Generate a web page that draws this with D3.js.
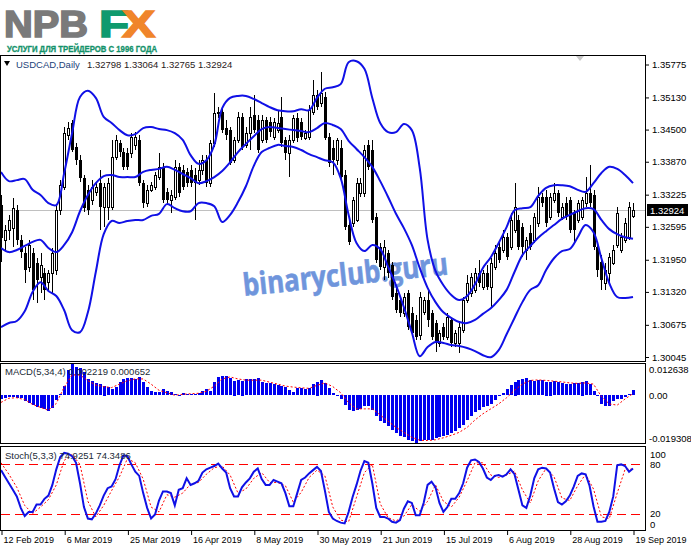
<!DOCTYPE html>
<html>
<head>
<meta charset="utf-8">
<script src="https://cdn.jsdelivr.net/npm/d3@7"></script>
<style>
body{margin:0;background:#fff;}
svg{display:block;font-family:"Liberation Sans",Arial,sans-serif;}
</style>
</head>
<body>
<script>
// USDCAD daily, 12 Feb 2019 .. 19 Sep 2019 (161 bars)
var openP = [
 1.3302,1.3234,1.3253,1.3257,1.3292,1.3234,1.3208,1.3181,1.3208,1.3189,
 1.3161,1.3169,1.3151,1.3169,1.3175,1.3292,1.3337,1.3439,1.3463,1.3416,
 1.3390,1.3355,1.3332,1.3312,1.3328,1.3345,1.3298,1.3298,1.3298,1.3396,
 1.3424,1.3406,1.3404,1.3404,1.3420,1.3430,1.3345,1.3306,1.3332,1.3337,
 1.3357,1.3377,1.3328,1.3312,1.3318,1.3377,1.3371,1.3367,1.3371,1.3361,
 1.3351,1.3371,1.3390,1.3345,1.3424,1.3483,1.3484,1.3453,1.3449,1.3390,
 1.3430,1.3475,1.3420,1.3443,1.3479,1.3469,1.3430,1.3469,1.3465,1.3435,
 1.3449,1.3475,1.3430,1.3404,1.3430,1.3473,1.3465,1.3434,1.3435,1.3484,
 1.3518,1.3502,1.3514,1.3435,1.3414,1.3390,1.3414,1.3361,1.3263,1.3267,
 1.3273,1.3326,1.3326,1.3420,1.3410,1.3279,1.3220,1.3181,1.3208,1.3185,
 1.3130,1.3116,1.3091,1.3130,1.3091,1.3077,1.3047,1.3092,1.3116,1.3091,
 1.3071,1.3032,1.3063,1.3043,1.3077,1.3032,1.3032,1.3057,1.3116,1.3130,
 1.3136,1.3169,1.3141,1.3169,1.3141,1.3181,1.3220,1.3214,1.3239,1.3220,
 1.3253,1.3273,1.3259,1.3214,1.3247,1.3234,1.3267,1.3318,1.3318,1.3279,
 1.3312,1.3326,1.3279,1.3306,1.3312,1.3287,1.3273,1.3279,1.3306,1.3326,
 1.3322,1.3220,1.3190,1.3149,1.3169,1.3189,1.3224,1.3214,1.3234,1.3239,
 1.32798];
var highP = [
 1.3322,1.3263,1.3283,1.3316,1.3302,1.3243,1.3220,1.3234,1.3218,1.3198,
 1.3208,1.3179,1.3175,1.3218,1.3302,1.3351,1.3455,1.3465,1.3469,1.3424,
 1.3400,1.3361,1.3341,1.3351,1.3347,1.3371,1.3345,1.3355,1.3430,1.3439,
 1.3430,1.3414,1.3414,1.3443,1.3445,1.3439,1.3351,1.3341,1.3347,1.3367,
 1.3404,1.3385,1.3336,1.3332,1.3390,1.3385,1.3381,1.3375,1.3381,1.3375,
 1.3390,1.3400,1.3400,1.3430,1.3522,1.3494,1.3492,1.3469,1.3455,1.3435,
 1.3484,1.3483,1.3455,1.3494,1.3518,1.3479,1.3479,1.3475,1.3475,1.3473,
 1.3488,1.3514,1.3435,1.3439,1.3479,1.3483,1.3473,1.3449,1.3498,1.3547,
 1.3528,1.3563,1.3524,1.3443,1.3430,1.3434,1.3430,1.3371,1.3277,1.3318,
 1.3355,1.3355,1.3420,1.3430,1.3430,1.3287,1.3228,1.3234,1.3214,1.3190,
 1.3140,1.3124,1.3130,1.3136,1.3102,1.3087,1.3132,1.3122,1.3136,1.3096,
 1.3077,1.3057,1.3071,1.3091,1.3083,1.3057,1.3073,1.3122,1.3165,1.3169,
 1.3179,1.3194,1.3175,1.3185,1.3198,1.3224,1.3228,1.3253,1.3247,1.3287,
 1.3345,1.3283,1.3267,1.3239,1.3263,1.3287,1.3337,1.3326,1.3332,1.3326,
 1.3345,1.3332,1.3306,1.3318,1.3318,1.3292,1.3312,1.3318,1.3357,1.3381,
 1.3332,1.3228,1.3204,1.3189,1.3208,1.3224,1.3298,1.3247,1.3277,1.3308,
 1.33064];
var lowP = [
 1.3190,1.3214,1.3234,1.3220,1.3224,1.3198,1.3149,1.3171,1.3116,1.3110,
 1.3130,1.3116,1.3136,1.3130,1.3165,1.3283,1.3332,1.3430,1.3406,1.3381,
 1.3347,1.3288,1.3283,1.3302,1.3320,1.3253,1.3259,1.3273,1.3292,1.3390,
 1.3396,1.3371,1.3371,1.3394,1.3410,1.3339,1.3296,1.3298,1.3328,1.3332,
 1.3351,1.3306,1.3302,1.3287,1.3312,1.3318,1.3332,1.3337,1.3337,1.3273,
 1.3341,1.3361,1.3337,1.3337,1.3416,1.3473,1.3443,1.3430,1.3381,1.3385,
 1.3424,1.3410,1.3414,1.3410,1.3443,1.3404,1.3424,1.3424,1.3435,1.3430,
 1.3443,1.3416,1.3390,1.3357,1.3424,1.3426,1.3430,1.3430,1.3430,1.3479,
 1.3488,1.3494,1.3430,1.3377,1.3361,1.3381,1.3351,1.3253,1.3224,1.3259,
 1.3269,1.3318,1.3318,1.3371,1.3267,1.3189,1.3175,1.3155,1.3159,1.3116,
 1.3091,1.3083,1.3083,1.3057,1.3043,1.3038,1.3038,1.3087,1.3063,1.3038,
 1.3014,1.3024,1.3038,1.3038,1.3024,1.3024,1.3012,1.3051,1.3110,1.3122,
 1.3130,1.3141,1.3136,1.3136,1.3102,1.3175,1.3189,1.3208,1.3194,1.3214,
 1.3247,1.3214,1.3200,1.3194,1.3214,1.3228,1.3259,1.3298,1.3259,1.3273,
 1.3306,1.3279,1.3273,1.3273,1.3247,1.3228,1.3267,1.3273,1.3298,1.3298,
 1.3214,1.3161,1.3136,1.3136,1.3149,1.3185,1.3218,1.3208,1.3228,1.3234,
 1.32765];
var closeP = [
 1.3238,1.3253,1.3273,1.3296,1.3234,1.3210,1.3175,1.3224,1.3136,1.3155,
 1.3185,1.3136,1.3169,1.3208,1.3292,1.3341,1.3443,1.3453,1.3410,1.3390,
 1.3355,1.3296,1.3292,1.3337,1.3337,1.3298,1.3337,1.3345,1.3396,1.3430,
 1.3406,1.3377,1.3377,1.3435,1.3435,1.3345,1.3306,1.3332,1.3341,1.3361,
 1.3377,1.3312,1.3312,1.3322,1.3377,1.3326,1.3337,1.3345,1.3345,1.3345,
 1.3371,1.3390,1.3345,1.3424,1.3483,1.3484,1.3449,1.3439,1.3385,1.3430,
 1.3475,1.3416,1.3443,1.3475,1.3449,1.3410,1.3469,1.3430,1.3445,1.3465,
 1.3463,1.3424,1.3404,1.3430,1.3473,1.3434,1.3435,1.3443,1.3488,1.3518,
 1.3494,1.3522,1.3434,1.3385,1.3390,1.3430,1.3357,1.3259,1.3230,1.3312,
 1.3345,1.3345,1.3410,1.3377,1.3273,1.3194,1.3181,1.3220,1.3169,1.3122,
 1.3096,1.3091,1.3122,1.3063,1.3051,1.3043,1.3122,1.3116,1.3077,1.3043,
 1.3032,1.3051,1.3043,1.3083,1.3032,1.3051,1.3063,1.3116,1.3149,1.3161,
 1.3169,1.3149,1.3169,1.3141,1.3189,1.3208,1.3194,1.3239,1.3200,1.3273,
 1.3298,1.3220,1.3220,1.3234,1.3220,1.3279,1.3318,1.3306,1.3267,1.3318,
 1.3326,1.3287,1.3298,1.3279,1.3253,1.3253,1.3306,1.3312,1.3326,1.3306,
 1.3220,1.3175,1.3155,1.3175,1.3200,1.3214,1.3287,1.3239,1.3267,1.3298,
 1.32924];

// Bollinger bands, read every second bar
var bbUpper = [
 1.3367,1.3349,1.3351,1.3353,1.3332,1.3322,1.3306,1.3302,1.3365,1.3443,
 1.3514,1.3526,1.3512,1.3475,1.3463,1.3449,1.3439,1.3441,1.3453,1.3455,
 1.3451,1.3449,1.3443,1.3430,1.3400,1.3383,1.3390,1.3420,1.3492,1.3512,
 1.3516,1.3516,1.3510,1.3502,1.3494,1.3488,1.3486,1.3486,1.3490,1.3488,
 1.3512,1.3530,1.3533,1.3539,1.3582,1.3584,1.3569,1.3512,1.3463,1.3445,
 1.3445,1.3461,1.3449,1.3375,1.3234,1.3173,1.3145,1.3126,1.3116,1.3124,
 1.3147,1.3179,1.3200,1.3228,1.3259,1.3292,1.3296,1.3298,1.3320,1.3336,
 1.3341,1.3341,1.3339,1.3332,1.3328,1.3345,1.3365,1.3377,1.3373,1.3361,
 1.3345];
var bbMiddle = [
 1.3218,1.3210,1.3214,1.3222,1.3230,1.3234,1.3218,1.3210,1.3224,1.3249,
 1.3290,1.3322,1.3345,1.3359,1.3361,1.3357,1.3357,1.3357,1.3367,1.3371,
 1.3373,1.3377,1.3371,1.3363,1.3355,1.3345,1.3349,1.3357,1.3369,1.3386,
 1.3406,1.3422,1.3437,1.3451,1.3455,1.3453,1.3451,1.3449,1.3447,1.3445,
 1.3453,1.3463,1.3459,1.3451,1.3428,1.3412,1.3396,1.3377,1.3349,1.3318,
 1.3285,1.3257,1.3224,1.3179,1.3140,1.3112,1.3092,1.3081,1.3073,1.3071,
 1.3077,1.3089,1.3100,1.3116,1.3136,1.3171,1.3204,1.3222,1.3238,1.3251,
 1.3263,1.3275,1.3283,1.3290,1.3296,1.3294,1.3273,1.3255,1.3245,1.3239,
 1.3236];
var bbLower = [
 1.3063,1.3071,1.3075,1.3094,1.3132,1.3151,1.3134,1.3124,1.3096,1.3057,
 1.3053,1.3092,1.3171,1.3245,1.3271,1.3267,1.3271,1.3273,1.3273,1.3281,
 1.3285,1.3304,1.3296,1.3290,1.3290,1.3306,1.3306,1.3300,1.3269,1.3283,
 1.3308,1.3339,1.3379,1.3406,1.3414,1.3420,1.3418,1.3416,1.3410,1.3402,
 1.3396,1.3390,1.3386,1.3355,1.3283,1.3228,1.3212,1.3224,1.3216,1.3181,
 1.3145,1.3102,1.3053,1.3006,1.3024,1.3034,1.3032,1.3028,1.3026,1.3022,
 1.3016,1.3008,1.3004,1.3018,1.3049,1.3081,1.3112,1.3136,1.3145,1.3175,
 1.3198,1.3212,1.3216,1.3239,1.3263,1.3249,1.3198,1.3149,1.3122,1.3120,
 1.3122];

// MACD(5,34,4): main per bar, signal every second bar
var macdMain = [
 -0.0016,-0.0014,-0.0010,-0.0010,-0.0012,-0.0014,-0.0023,-0.0033,-0.0041,-0.0049,
 -0.0053,-0.0057,-0.0064,-0.0053,-0.0020,0.0004,0.0037,0.0102,0.012638,0.0115,
 0.0111,0.0094,0.0066,0.0057,0.0049,0.0045,0.0039,0.0033,0.0025,0.0033,
 0.0053,0.0066,0.0070,0.0070,0.0066,0.0072,0.0053,0.0033,0.0018,0.0014,
 0.0014,0.0025,0.0016,0.0012,0.0004,-0.0004,0.0008,0.0004,0.0006,0.0006,
 0.0008,0.0016,0.0025,0.0016,0.0053,0.0074,0.0076,0.0076,0.0070,0.0059,
 0.0061,0.0059,0.0066,0.0066,0.0066,0.0068,0.0053,0.0049,0.0049,0.0045,
 0.0041,0.0037,0.0033,0.0020,0.0014,0.0029,0.0030,0.0025,0.0030,0.0045,
 0.0055,0.0060,0.0050,0.0030,0.0010,0.0000,-0.0015,-0.0040,-0.0060,-0.0065,
 -0.0060,-0.0055,-0.0045,-0.0045,-0.0060,-0.0085,-0.0105,-0.0115,-0.0125,-0.0140,
 -0.0155,-0.0165,-0.0170,-0.0180,-0.0188,-0.019308,-0.0187,-0.0182,-0.0180,-0.0180,
 -0.0175,-0.0170,-0.0165,-0.0160,-0.0155,-0.0145,-0.0135,-0.0120,-0.0100,-0.0085,
 -0.0070,-0.0060,-0.0050,-0.0045,-0.0035,-0.0020,-0.0005,0.0010,0.0025,0.0040,
 0.0055,0.0060,0.0065,0.0068,0.0060,0.0058,0.0062,0.0060,0.0055,0.0055,
 0.0058,0.0052,0.0050,0.0045,0.0045,0.0048,0.0050,0.0055,0.0058,0.0045,
 0.0017,-0.0005,-0.0038,-0.0045,-0.0045,-0.0025,-0.0018,-0.0016,-0.0010,0.0004,
 0.002219];
var macdSignal = [
 -0.0029,-0.0012,-0.0010,-0.0018,-0.0037,-0.0049,-0.0061,-0.0033,0.0033,0.0082,
 0.0082,0.0059,0.0041,0.0035,0.0031,0.0045,0.0059,0.0066,0.0066,0.0045,
 0.0020,0.0010,0.0000,0.0004,0.0006,0.0008,0.0016,0.0037,0.0066,0.0074,
 0.0066,0.0061,0.0061,0.0061,0.0053,0.0045,0.0037,0.0033,0.0030,0.0028,
 0.0040,0.0050,0.0035,0.0010,-0.0030,-0.0055,-0.0055,-0.0055,-0.0080,-0.0105,
 -0.0130,-0.0150,-0.0170,-0.0182,-0.0183,-0.0180,-0.0172,-0.0162,-0.0150,-0.0130,
 -0.0100,-0.0075,-0.0055,-0.0035,-0.0010,0.0020,0.0045,0.0060,0.0062,0.0060,
 0.0057,0.0054,0.0050,0.0048,0.0050,0.0045,-0.0005,-0.0035,-0.0040,-0.0015,
 0.000652];

// Stochastic(5,3,3): main per bar, signal every second bar
var stochMain = [
 73,65,57,49,41,27,17,22,22,31,
 31,38,42,55,74,89,94,93,90,82,
 57,28,14,13,20,30,42,51,53,62,
 79,91,90,80,71,66,45,27,14,19,
 36,47,47,45,30,49,51,63,55,57,
 60,70,74,76,78,81,75,70,51,41,
 41,52,58,63,71,75,62,55,55,61,
 59,57,45,29,29,45,61,64,69,73,
 77,72,48,22,14,11,9,8,22,40,
 55,72,84,82,57,27,16,16,14,10,
 9,12,26,35,33,18,18,33,55,59,
 52,33,22,28,38,38,45,57,76,85,
 86,83,75,64,61,66,67,65,68,74,
 68,49,30,27,42,63,74,76,75,70,
 51,34,31,35,42,53,66,69,68,54,
 29,10,10,11,22,41,79,80,78,71,
 74.9251];
var stochSignal = [
 82,68,52,30,20,28,37,55,85,92,
 80,35,16,30,48,65,87,82,62,28,
 22,43,40,45,56,58,68,76,78,67,
 45,50,63,70,58,58,54,34,46,64,
 73,66,28,12,10,40,70,80,32,15,
 11,17,31,23,35,55,35,28,40,60,
 82,82,67,64,67,72,49,33,60,75,
 65,39,36,54,68,50,16,14,45,74,
 74.3486];
var stochLevels = [80, 20];

var priceTicks = [1.35775,1.35130,1.34500,1.33870,1.33225,1.32595,1.31950,1.31320,1.30675,1.30045];
var macdTicks = [0.012638, 0, -0.019308];
var stochTicks = [100, 80, 20, 0];
var dateIdx = [0,16,32,48,64,80,96,112,128,144,160];
var dateLabels = ["12 Feb 2019","6 Mar 2019","25 Mar 2019","16 Apr 2019","8 May 2019","30 May 2019",
                  "21 Jun 2019","15 Jul 2019","6 Aug 2019","28 Aug 2019","19 Sep 2019"];

var width = 691, height = 549;
var svg = d3.select("body").append("svg").attr("width", width).attr("height", height);

var n = closeP.length;
var x = d3.scaleLinear().domain([0, n - 1]).range([1, 633]);
var yP = d3.scaleLinear().domain([1.30045, 1.35775]).range([357, 64.5]);
var yM = d3.scaleLinear().domain([-0.019308, 0.012638]).range([443, 364]);
var yS = d3.scaleLinear().domain([0, 100]).range([530, 448]);
var bbIdx = d3.range(0, n, 2);
var bars = d3.range(n);
var cx = function (i) { return Math.round(x(i)); };

var blue = "#1010e6";

// panels
var panels = [
    {id: "main", y0: 55.5, y1: 361.5},
    {id: "macd", y0: 363.5, y1: 443.5},
    {id: "stoch", y0: 446.5, y1: 530.5}
];
var defs = svg.append("defs");
panels.forEach(function (p) {
    defs.append("clipPath").attr("id", "clip-" + p.id)
        .append("rect").attr("x", 1).attr("y", p.y0 + 0.5)
        .attr("width", 644).attr("height", p.y1 - p.y0 - 1);
});

// logo
svg.append("text").attr("x", 4).attr("y", 36.5).attr("textLength", 84)
    .attr("lengthAdjust", "spacingAndGlyphs")
    .style("font", "bold 36px 'Liberation Sans'").attr("fill", "#7a7a7a")
    .attr("stroke", "#7a7a7a").attr("stroke-width", 1.6).text("NPB");
var fx = svg.append("text").attr("x", 99).attr("y", 36.5).attr("textLength", 56)
    .attr("lengthAdjust", "spacingAndGlyphs")
    .style("font", "bold 36px 'Liberation Sans'").attr("stroke-width", 1.6);
fx.append("tspan").attr("fill", "#0f9a6e").attr("stroke", "#0f9a6e").text("F");
fx.append("tspan").attr("dx", -5).attr("fill", "#f0852a").attr("stroke", "#f0852a").text("X");
svg.append("text").attr("x", 7).attr("y", 51.5).attr("textLength", 150)
    .attr("lengthAdjust", "spacingAndGlyphs")
    .style("font", "bold 8.5px 'Liberation Sans'").attr("fill", "#13926a")
    .attr("stroke", "#13926a").attr("stroke-width", 0.3)
    .text("УСЛУГИ ДЛЯ ТРЕЙДЕРОВ С 1996 ГОДА");

// watermark (under the candles)
svg.append("text")
    .attr("transform", "translate(244,296) rotate(-6)")
    .attr("textLength", 206).attr("lengthAdjust", "spacingAndGlyphs")
    .style("font", "bold 31px 'Open Sans'")
    .attr("fill", "#6f95dc").attr("stroke", "#6f95dc").attr("stroke-width", 0.6)
    .text("binaryclub.guru");

// last price line
svg.append("line").attr("x1", 1).attr("x2", 645)
    .attr("y1", Math.round(yP(closeP[n - 1])) + 0.5).attr("y2", Math.round(yP(closeP[n - 1])) + 0.5)
    .attr("stroke", "#c0c0c0").attr("shape-rendering", "crispEdges");

// candles
var gMain = svg.append("g").attr("clip-path", "url(#clip-main)");
var up = function (i) { return closeP[i] >= openP[i]; };
gMain.selectAll("line.wick").data(bars).enter().append("line")
    .attr("class", "wick")
    .attr("x1", function (d) { return cx(d) + 0.5; })
    .attr("x2", function (d) { return cx(d) + 0.5; })
    .attr("y1", function (d) { return Math.round(yP(highP[d])); })
    .attr("y2", function (d) { return Math.round(yP(lowP[d])); })
    .attr("stroke", "#000").attr("shape-rendering", "crispEdges");
gMain.selectAll("rect.body").data(bars).enter().append("rect")
    .attr("class", "body")
    .attr("x", function (d) { return up(d) ? cx(d) - 0.5 : cx(d) - 1; })
    .attr("width", function (d) { return up(d) ? 2 : 3; })
    .attr("y", function (d) {
        var t = Math.round(yP(Math.max(openP[d], closeP[d])));
        return up(d) ? t + 0.5 : t;
    })
    .attr("height", function (d) {
        var t = Math.round(yP(Math.max(openP[d], closeP[d])));
        var b = Math.round(yP(Math.min(openP[d], closeP[d])));
        return Math.max(up(d) ? 1 : 2, b - t);
    })
    .attr("fill", function (d) { return up(d) ? "#fff" : "#000"; })
    .attr("stroke", function (d) { return up(d) ? "#000" : "none"; })
    .attr("shape-rendering", "crispEdges");

// bollinger bands
var bbLine = function (arr) {
    return d3.line()
        .x(function (d, k) { return x(bbIdx[k]); })
        .y(function (d) { return yP(d); })
        .curve(d3.curveCatmullRom)(arr);
};
[bbUpper, bbMiddle, bbLower].forEach(function (arr) {
    gMain.append("path").attr("d", bbLine(arr))
        .attr("fill", "none").attr("stroke", blue).attr("stroke-width", 2);
});

// MACD
var gMacd = svg.append("g").attr("clip-path", "url(#clip-macd)");
gMacd.selectAll("rect").data(bars).enter().append("rect")
    .attr("x", function (d) { return cx(d) - 1; })
    .attr("width", 3)
    .attr("y", function (d) { return Math.round(Math.min(yM(macdMain[d]), yM(0))); })
    .attr("height", function (d) { return Math.max(1, Math.round(Math.abs(yM(macdMain[d]) - yM(0)))); })
    .attr("fill", "#0000f0").attr("shape-rendering", "crispEdges");
gMacd.append("path")
    .attr("d", d3.line().x(function (d, k) { return x(bbIdx[k]); }).y(function (d) { return yM(d); })(macdSignal))
    .attr("fill", "none").attr("stroke", "#ff0000").attr("stroke-width", 1)
    .attr("stroke-dasharray", "2,2");

// Stochastic
var gSto = svg.append("g").attr("clip-path", "url(#clip-stoch)");
gSto.selectAll("line.level").data(stochLevels).enter().append("line")
    .attr("x1", 1).attr("x2", 645)
    .attr("y1", function (d) { return Math.round(yS(d)) + 0.5; })
    .attr("y2", function (d) { return Math.round(yS(d)) + 0.5; })
    .attr("stroke", "#ff0000").attr("stroke-width", 1.2).attr("stroke-dasharray", "9,5");
gSto.append("path")
    .attr("d", d3.line().x(function (d, k) { return x(bbIdx[k]); }).y(function (d) { return yS(d); })(stochSignal))
    .attr("fill", "none").attr("stroke", "#ff0000").attr("stroke-width", 1)
    .attr("stroke-dasharray", "2,2");
gSto.append("path")
    .attr("d", d3.line().x(function (d, k) { return x(k); }).y(function (d) { return yS(d); })(stochMain))
    .attr("fill", "none").attr("stroke", blue).attr("stroke-width", 2);

// frames
panels.forEach(function (p) {
    svg.append("rect").attr("x", 0.5).attr("y", p.y0)
        .attr("width", 645).attr("height", p.y1 - p.y0)
        .attr("fill", "none").attr("stroke", "#000").attr("shape-rendering", "crispEdges");
});

// top shift marker
svg.append("path").attr("d", "M576,56L584,56L580,61Z").attr("fill", "#c8c8c8");

// headers
svg.append("path").attr("d", "M4,61L10,61L7,66Z").attr("fill", "#000");
svg.append("text").attr("x", 16).attr("y", 68).style("font-size", "9.5px")
    .attr("fill", "#1d3f7a").text("USDCAD,Daily");
svg.append("text").attr("x", 87).attr("y", 68).style("font-size", "9.5px")
    .attr("fill", "#2a1a1a")
    .text([openP[n - 1], highP[n - 1], lowP[n - 1], closeP[n - 1]].map(function (v) { return v.toFixed(5); }).join(" "));
svg.append("text").attr("x", 5).attr("y", 375).style("font-size", "9.5px").attr("fill", "#1a2a36")
    .text("MACD(5,34,4) " + macdMain[n - 1].toFixed(6) + " " + macdSignal[macdSignal.length - 1].toFixed(6));
svg.append("text").attr("x", 5).attr("y", 459).style("font-size", "9.5px").attr("fill", "#1a2a36")
    .text("Stoch(5,3,3) " + stochMain[n - 1].toFixed(4) + " " + stochSignal[stochSignal.length - 1].toFixed(4));

// axes
function styleAxis(g, size) {
    g.select(".domain").remove();
    g.selectAll("text").attr("fill", "#000").style("font-family", "'Liberation Sans'").style("font-size", size);
    g.selectAll("line").attr("stroke", "#000");
}
var axP = svg.append("g").attr("transform", "translate(646,0)")
    .call(d3.axisRight(yP).tickValues(priceTicks).tickSize(3).tickPadding(3).tickFormat(d3.format(".5f")));
styleAxis(axP, "9.5px");

var axM = svg.append("g").attr("transform", "translate(646,0)")
    .call(d3.axisRight(yM).tickValues(macdTicks).tickSize(0).tickPadding(3)
        .tickFormat(function (d) { return d === 0 ? "0.00" : String(d); }));
styleAxis(axM, "9.5px");
axM.selectAll(".tick text").attr("y", function (d) { return d > 0 ? 5 : (d < 0 ? -5 : 0); });

var axS = svg.append("g").attr("transform", "translate(646,0)")
    .call(d3.axisRight(yS).tickValues(stochTicks).tickSize(0).tickPadding(4));
styleAxis(axS, "9.5px");
axS.selectAll(".tick text").attr("y", function (d) { return d === 100 ? 6 : (d === 0 ? -6 : 0); });

// current price box
var lastY = Math.round(yP(closeP[n - 1]));
svg.append("rect").attr("x", 647).attr("y", lastY - 6).attr("width", 41).attr("height", 12).attr("fill", "#000");
svg.append("text").attr("x", 650).attr("y", lastY + 3.5).style("font-size", "9.5px")
    .attr("fill", "#fff").text(closeP[n - 1].toFixed(5));

var axD = svg.append("g").attr("transform", "translate(0,531)")
    .call(d3.axisBottom(x).tickValues(dateIdx).tickSize(4).tickPadding(2)
        .tickFormat(function (d, i) { return dateLabels[i]; }));
styleAxis(axD, "9px");
axD.selectAll(".tick line").attr("transform", function () { return "translate(" + 0.5 + ",0)"; });
axD.selectAll(".tick text").attr("text-anchor", "start").attr("x", 2);
</script>
</body>
</html>
